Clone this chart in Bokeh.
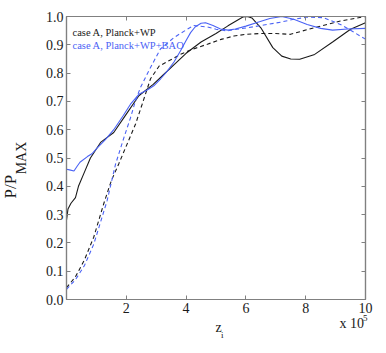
from bokeh.plotting import figure
from bokeh.models import (LinearAxis, FixedTicker, NumeralTickFormatter, Label, Range1d, Title)
from bokeh.embed import file_html
from bokeh.resources import INLINE

# ---- data ----
black_solid_x = [0.0, 0.05, 0.15, 0.3, 0.4, 0.6, 0.8, 1.14, 1.58, 2.0, 2.42, 2.9, 3.25, 3.6, 4.0, 4.5,
                 5.0, 5.4, 5.9, 6.05, 6.2, 6.5, 6.9, 7.2, 7.5, 7.8, 8.3, 8.9, 9.5, 10.0]
black_solid_y = [0.28, 0.32, 0.34, 0.36, 0.40, 0.45, 0.50, 0.555, 0.59, 0.655, 0.72, 0.76, 0.795, 0.83, 0.87, 0.91,
                 0.94, 0.967, 0.998, 1.0, 0.995, 0.96, 0.89, 0.86, 0.85, 0.849, 0.866, 0.91, 0.955, 0.978]

blue_solid_x = [0.0, 0.1, 0.25, 0.35, 0.45, 0.7, 0.85, 1.03, 1.3, 1.58, 1.9, 2.14, 2.42, 2.7, 2.92, 3.15,
                3.37, 3.6, 3.81, 4.0, 4.15, 4.3, 4.5, 4.65, 4.9, 5.15, 5.4, 5.65, 6.0, 6.4, 6.8, 7.2,
                7.6, 8.05, 8.5, 8.9, 9.4, 10.0]
blue_solid_y = [0.46, 0.458, 0.454, 0.47, 0.485, 0.505, 0.515, 0.536, 0.565, 0.60, 0.65, 0.69, 0.725, 0.74, 0.755, 0.78,
                0.807, 0.84, 0.878, 0.915, 0.943, 0.963, 0.976, 0.978, 0.968, 0.956, 0.952, 0.956, 0.966, 0.98, 0.993, 1.0,
                0.99, 0.972, 0.958, 0.952, 0.956, 0.958]

black_dash_x = [0.0, 0.3, 0.6, 0.91, 1.25, 1.5, 1.75, 2.03, 2.31, 2.53, 2.81, 3.1, 3.59, 3.81, 4.15, 4.71,
                5.2, 5.6, 6.0, 6.49, 7.0, 7.49, 8.27, 9.16, 10.0]
black_dash_y = [0.042, 0.08, 0.14, 0.22, 0.34, 0.42, 0.48, 0.55, 0.62, 0.69, 0.78, 0.825, 0.853, 0.866, 0.882, 0.902,
                0.92, 0.931, 0.937, 0.94, 0.94, 0.937, 0.96, 0.984, 1.0]

blue_dash_x = [0.0, 0.3, 0.6, 0.91, 1.1, 1.36, 1.64, 1.92, 2.14, 2.3, 2.47, 2.81, 3.14, 3.59, 3.81, 4.04,
               4.26, 4.71, 5.0, 5.37, 5.7, 6.04, 6.6, 7.16, 7.6, 8.05, 8.6, 9.16, 9.6, 10.0]
blue_dash_y = [0.036, 0.07, 0.12, 0.195, 0.26, 0.35, 0.478, 0.572, 0.642, 0.70, 0.748, 0.82, 0.885, 0.925, 0.94, 0.955,
               0.968, 0.963, 0.955, 0.949, 0.955, 0.96, 0.97, 0.98, 0.99, 0.998, 0.996, 0.972, 0.945, 0.92]

x_ticks = [2, 4, 6, 8, 10]
y_ticks = [0.0, 0.1, 0.2, 0.3, 0.4, 0.5, 0.6, 0.7, 0.8, 0.9, 1.0]
series_labels = ["case A, Planck+WP", "case A, Planck+WP+BAO"]

BLACK = "#1a1a1a"
BLUE = "#4a62f5"
FRAME = "#808080"
FONT = "Liberation Serif"

FRAME_L, FRAME_T, FRAME_W, FRAME_H = 66, 16, 299, 283
FRAME_B = FRAME_T + FRAME_H

p = figure(frame_width=FRAME_W, frame_height=FRAME_H, output_backend="svg", toolbar_location=None,
           x_range=Range1d(0, 10), y_range=Range1d(0, 1),
           x_axis_location=None, y_axis_location=None,
           min_border_left=FRAME_L, min_border_right=13, min_border_top=FRAME_T, min_border_bottom=46)
p.grid.visible = False
p.outline_line_color = FRAME
p.outline_line_width = 1.2
p.background_fill_color = "white"
p.border_fill_color = "white"


def make_axis(ticks, labels=True, fmt=None):
    ax = LinearAxis(ticker=FixedTicker(ticks=ticks))
    ax.axis_line_color = FRAME
    ax.axis_line_width = 1.2
    ax.major_tick_line_color = FRAME
    ax.major_tick_in = 4
    ax.major_tick_out = 0
    ax.minor_tick_line_color = None
    ax.major_label_text_font = FONT
    ax.major_label_text_font_size = "14px"
    ax.major_label_text_color = BLACK
    if fmt:
        ax.formatter = fmt
    if not labels:
        ax.major_label_text_font_size = "0px"
        ax.major_label_standoff = 0
        ax.major_label_text_alpha = 0
    else:
        ax.major_label_standoff = 3
    return ax


MAX_FS, MAX_STANDOFF = 14, 14
xax = make_axis(x_ticks)
p.add_layout(xax, "below")
yax = make_axis(y_ticks, fmt=NumeralTickFormatter(format="0.0"))
# subscript part of the y title, carried by the axis label
yax.axis_label = "MAX"
yax.axis_label_text_font = FONT
yax.axis_label_text_font_size = f"{MAX_FS}px"
yax.axis_label_text_font_style = "normal"
yax.axis_label_text_color = BLACK
yax.axis_label_standoff = MAX_STANDOFF
p.add_layout(yax, "left")
p.add_layout(make_axis(x_ticks, labels=False), "above")
p.add_layout(make_axis(y_ticks, labels=False), "right")

p.line(black_solid_x, black_solid_y, line_color=BLACK, line_width=1.1)
p.line(black_dash_x, black_dash_y, line_color=BLACK, line_width=1.1, line_dash="4 3")
p.line(blue_dash_x, blue_dash_y, line_color=BLUE, line_width=1.1, line_dash="4 3")
p.line(blue_solid_x, blue_solid_y, line_color=BLUE, line_width=1.1)

# legend-like texts
p.add_layout(Label(x=0.2, y=0.942, text=series_labels[0], text_font=FONT, text_font_size="10.5px",
                   text_color=BLACK, text_baseline="middle"))
p.add_layout(Label(x=0.2, y=0.899, text=series_labels[1], text_font=FONT, text_font_size="10.5px",
                   text_color=BLUE, text_baseline="middle"))


# ---- off-frame texts as stacked titles ----
class Stack:
    def __init__(self, side, start, sign):
        self.side = side
        self.pos = start      # current outer edge of the stack, in canvas px
        self.sign = sign      # +1 going down (below), -1 going left (left)

    def add(self, text, fs, center, offset):
        h = 1.107 * fs
        size = 2 * (center - self.pos) * self.sign
        standoff = size - 2 - h
        t = Title(text=text, align="left", offset=offset, vertical_align="middle",
                  text_font=FONT, text_font_size=f"{fs}px", text_font_style="normal",
                  text_color=BLACK)
        try:
            t.standoff = standoff
        except Exception:
            t.standoff = max(standoff, 0)
        p.add_layout(t, self.side)
        self.pos = self.pos + self.sign * (2 + h + t.standoff)


below = Stack("below", FRAME_B + 3 + 1.107 * 14, +1)
below.add("5", 9, 321.5, 296.5)
below.add("x 10", 14, 330.0, 273)
below.add("z", 14, 331.5, 149)
below.add("i", 9, 336.0, 154.5)

left = Stack("left", FRAME_L - 3 - 17.5 - MAX_STANDOFF - 1.107 * MAX_FS, -1)
left.add("P/P", 17, 15.5, 101)

open("out.html", "w").write(file_html(p, INLINE))
